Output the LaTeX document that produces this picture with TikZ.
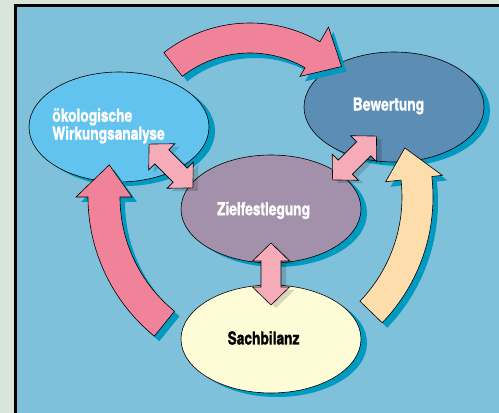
\documentclass[tikz,border=0pt]{standalone}
\usepackage{fontspec}
\newfontfamily\heroscn{texgyreheroscn}[Extension=.otf,UprightFont=*-regular,BoldFont=*-bold,BoldFeatures={FakeBold=1.2,FakeStretch=0.93}]
\usepackage{tikz}
\usetikzlibrary{positioning, calc}
\usetikzlibrary{shapes,shadows}

\definecolor{paper}{RGB}{217,229,216}
\definecolor{panel}{RGB}{127,192,218}
\definecolor{oekoblue}{RGB}{98,195,238}
\definecolor{bewblue}{RGB}{91,141,181}
\definecolor{zielmauve}{RGB}{163,145,171}
\definecolor{sachcream}{RGB}{254,252,214}
\definecolor{cyclepink}{RGB}{240,131,153}
\definecolor{cycleyellow}{RGB}{252,221,171}
\definecolor{linkpink}{RGB}{246,172,184}
\definecolor{tealshadow}{RGB}{0,153,191}

% bent block arrow round a centre:
% centre, tail angle, base angle, tip angle, inner r, outer r, head inner r, head outer r, tip r
\newcommand{\bentpath}[9]{($(#1)+(#2:#6)$) arc[start angle=#2, end angle=#3, radius=#6]
	-- ($(#1)+(#3:#8)$) -- ($(#1)+(#4:#9)$) -- ($(#1)+(#3:#7)$) -- ($(#1)+(#3:#5)$)
	arc[start angle=#3, end angle=#2, radius=#5] -- cycle}

\begin{document}
\begin{tikzpicture}[x=1pt,y=1pt,line width=0.6pt,line join=miter]
	\tikzstyle{e-node}=[ellipse,draw=black,inner sep=0pt,minimum width=180pt,drop shadow={shadow xshift=6pt,shadow yshift=-4pt,fill=tealshadow,opacity=1}]
	\tikzstyle{t-node}=[font=\heroscn\bfseries\fontsize{18}{18}\selectfont,text=white,align=left,inner sep=0pt]
	\tikzstyle{c-arrow}=[draw=black,drop shadow={shadow xshift=5pt,shadow yshift=-5pt,fill=tealshadow,opacity=1}]
	\tikzset{link/.pic={\path[pic actions] (31,0) -- (13,18.5) -- (13,10) -- (-13,10) -- (-13,18.5)
		-- (-31,0) -- (-13,-18.5) -- (-13,-10) -- (13,-10) -- (13,-18.5) -- cycle;}}
	\useasboundingbox (0,0) rectangle (499,413);
	% frame
	\fill[paper] (0,0) rectangle (499,413);
	\fill[panel] (15,0) rectangle (499,407.5);
	\draw[line width=2.8pt] (15.2,0) -- (15.2,407.5) -- (499,407.5);

	% ellipses
	\node[e-node,fill=oekoblue,minimum height=110pt] 	(oeko)	at (119,286)	{};
	\node[e-node,fill=bewblue,minimum height=110pt] 	(bew)	at (394,306)	{};
	\node[e-node,fill=zielmauve,minimum height=108pt] 	(ziel)	at (271,204)	{};
	\node[e-node,fill=sachcream,minimum height=108pt] 	(sach)	at (271,74)	{};

	% labels
	\node[t-node,anchor=west] 	(oekotxt)	at (52,287)		{ökologische\\Wirkungsanalyse};
	\node[t-node] 			(bewtxt)	at (388.5,307)	{Bewertung};
	\node[t-node] 			(zieltxt)	at (263.5,202.5)	{Zielfestlegung};
	\node[t-node,text=black] 	(sachtxt)	at (263.5,75)	{Sachbilanz};

	% cycle arrows
	\coordinate (topc) at (250,250);
	\coordinate (leftc) at (267,216);
	\coordinate (rightc) at (252,216);
	\path[c-arrow,fill=cyclepink] \bentpath{topc}{128}{60}{46.5}{110pt}{140pt}{100pt}{157pt}{133pt};
	\path[c-arrow,fill=cyclepink] \bentpath{leftc}{231}{180}{168.5}{147pt}{179pt}{135pt}{191pt}{161pt};
	\path[c-arrow,fill=cycleyellow] \bentpath{rightc}{-44}{6.5}{17.8}{150pt}{181pt}{134.5pt}{191.5pt}{160.5pt};

	% links to Zielfestlegung
	\coordinate (oz) at (171,247);
	\coordinate (bz) at (354.5,255);
	\coordinate (sz) at ($(ziel)!0.5!(sach)$);
	\pic[fill=black,opacity=.15,shift={(5,-3)},rotate=-45] at (oz) {link};
	\pic[draw=black,fill=linkpink,rotate=-45] at (oz) {link};
	\pic[fill=black,opacity=.15,shift={(5,-3)},rotate=45] at (bz) {link};
	\pic[draw=black,fill=linkpink,rotate=45] at (bz) {link};
	\pic[fill=black,opacity=.15,shift={(5,-3)},rotate=90] at (sz) {link};
	\pic[draw=black,fill=linkpink,rotate=90] at (sz) {link};
\end{tikzpicture}
\end{document}
